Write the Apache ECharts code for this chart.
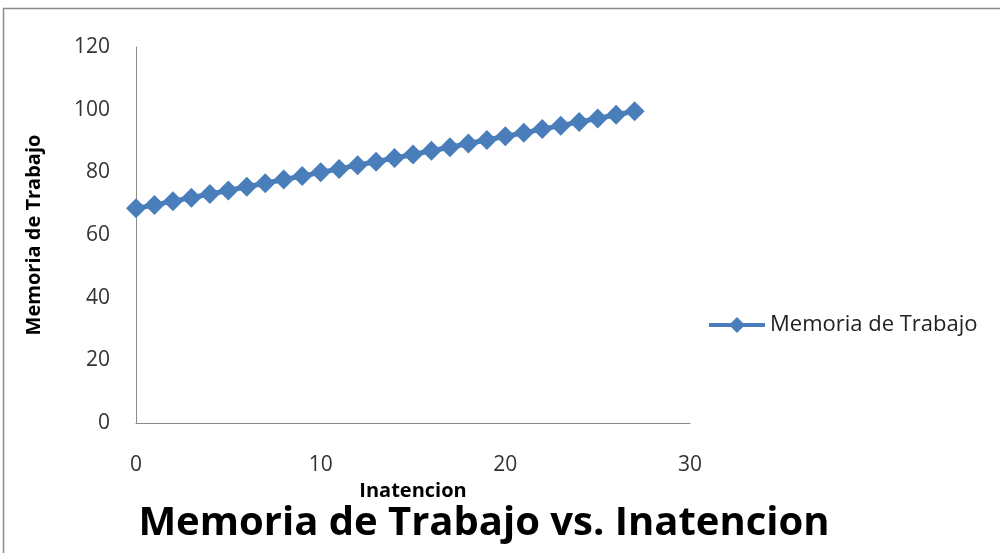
<!DOCTYPE html>
<html><head><meta charset="utf-8">
<script src="https://cdn.jsdelivr.net/npm/echarts@6/dist/echarts.min.js"></script>
<style>html,body{margin:0;padding:0;background:#fff}#c{width:1000px;height:553px}</style>
</head><body><div id="c"></div>
<script>
const xValues = [0,1,2,3,4,5,6,7,8,9,10,11,12,13,14,15,16,17,18,19,20,21,22,23,24,25,26,27];
const yValues = [68.5,69.6,70.8,71.9,73.1,74.2,75.4,76.5,77.7,78.8,80.0,81.1,82.3,83.4,84.6,85.7,86.9,88.0,89.2,90.3,91.5,92.6,93.8,94.9,96.1,97.2,98.4,99.5];
const seriesName = 'Memoria de Trabajo';
const titleText = 'Memoria de Trabajo vs. Inatencion';
const xTitle = 'Inatencion';
const yTitle = 'Memoria de Trabajo';

const font = 'Open Sans';
const chart = echarts.init(document.getElementById('c'), null, {renderer:'canvas'});
chart.setOption({
  animation:false,
  backgroundColor:'#fff',
  graphic:[{type:'rect',shape:{x:3.5,y:8.5,width:1100,height:700},style:{fill:'none',stroke:'#8c8c8c',lineWidth:1.5},z:-1}],
  title:{text:titleText,left:479,top:499,textAlign:'center',textStyle:{fontFamily:font,fontWeight:'bold',fontSize:40,color:'#000'}},
  legend:{data:[seriesName],left:702,top:309,itemWidth:56,itemHeight:20,itemGap:6,
    lineStyle:{width:4,color:'#4a7ebb'},
    textStyle:{fontFamily:font,fontSize:22,color:'#222'}},
  grid:{left:136,right:310,top:47,bottom:130,containLabel:false},
  xAxis:{type:'value',min:0,max:30,interval:10,name:xTitle,nameLocation:'middle',nameGap:36,
    nameTextStyle:{fontFamily:font,fontWeight:'bold',fontSize:20,color:'#000'},
    axisLine:{show:true,onZero:false,lineStyle:{color:'#8a8a8a',width:1}},axisTick:{show:false},splitLine:{show:false},
    axisLabel:{fontFamily:font,fontSize:21,color:'#333',margin:32}},
  yAxis:{type:'value',min:0,max:120,interval:20,name:yTitle,nameLocation:'middle',nameGap:92,nameRotate:90,
    nameTextStyle:{fontFamily:font,fontWeight:'bold',fontSize:20,color:'#000'},
    axisLine:{show:true,lineStyle:{color:'#8a8a8a',width:1}},axisTick:{show:false},splitLine:{show:false},
    axisLabel:{fontFamily:font,fontSize:21,color:'#333',margin:26}},
  series:[{name:seriesName,type:'line',data:xValues.map((x,i)=>[x,yValues[i]]),
    symbol:'diamond',symbolSize:20,showAllSymbol:true,
    lineStyle:{color:'#4a7ebb',width:5},itemStyle:{color:'#4a7ebb'}}]
});
</script></body></html>
